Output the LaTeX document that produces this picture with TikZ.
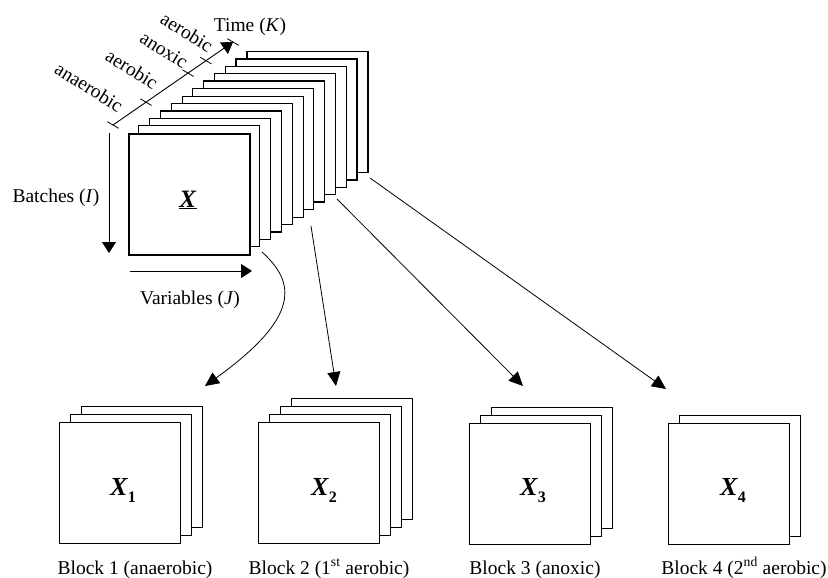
\documentclass[tikz,border=0pt]{standalone}
\usepackage{fontspec}
\setmainfont{Liberation Serif}
\usetikzlibrary{arrows.meta,calc}
\newcommand{\blocksub}[1]{\raisebox{-0.28em}{\fontsize{16}{16}\selectfont\textbf{#1}}}
\begin{document}
\begin{tikzpicture}[x=1pt,y=-1pt,
  thinslice/.style={draw=black,fill=white,line width=0.8pt},
  boldslice/.style={draw=black,fill=white,line width=1.7pt},
  frontbox/.style={draw=black,fill=white,line width=0.8pt,minimum width=121pt,minimum height=121pt,inner sep=0pt,anchor=north west},
  lbl/.style={font=\fontsize{19.5}{23}\selectfont,inner sep=0pt},
  biglbl/.style={font=\fontsize{26}{28}\selectfont,inner sep=0pt},
  axisarrow/.style={line width=0.9pt,-{Triangle[length=11pt,width=14pt]}},
  conn/.style={line width=0.8pt,-{Triangle[length=14pt,width=13pt]}},
  tickmark/.style={line width=0.8pt}]
\useasboundingbox[fill=white] (0,0) rectangle (828,578);

% ---- three-way array X : stack of time slices (back to front)
\foreach \i/\s in {11/boldslice,10/boldslice,9/thinslice,8/thinslice,7/boldslice,6/thinslice,5/thinslice,4/thinslice,3/boldslice,2/thinslice,1/thinslice}
  \draw[\s] ({128+10.8*\i},{133-7.4*\i}) rectangle ++(121,121);
\node[frontbox,line width=1.7pt] (X) at (128,133) {};
\node[biglbl,font=\fontsize{25}{27}\selectfont,anchor=base] (Xlbl) at (188,207) {\underline{\textbf{\textit{X}}}};

% ---- time axis
\coordinate (a0) at (113,125);
\coordinate (a1) at (233,42);
\draw[axisarrow] (a0) -- (a1);
\foreach \f in {0,0.275,0.625,0.775,1}
  \draw[tickmark] ($(a0)!\f!(a1)+(-5.6,-3.3)$) -- ($(a0)!\f!(a1)+(5.6,3.3)$);
\node[lbl,rotate=-32] (ph1) at (89,87) {anaerobic};
\node[lbl,rotate=-32] (ph2) at (132,69) {aerobic};
\node[lbl,rotate=-32] (ph3) at (164,50) {anoxic};
\node[lbl,rotate=-32] (ph4) at (187,32) {aerobic};
\node[lbl,anchor=base] (time) at (250,32) {Time (\textit{K})};

% ---- batches and variables axes
\coordinate (bI0) at (109,133);
\coordinate (bI1) at (109,253);
\draw[axisarrow] (bI0) -- (bI1);
\node[lbl,anchor=base] (batches) at (56,202) {Batches (\textit{I})};
\coordinate (vJ0) at (130,271);
\coordinate (vJ1) at (252,271);
\draw[axisarrow] (vJ0) -- (vJ1);
\node[lbl,anchor=base] (variables) at (190,304) {Variables (\textit{J})};

% ---- blocks
% Block 1 (3 slices)
\foreach \j in {2,1} \draw[thinslice] ({59+11*\j},{422-8*\j}) rectangle ++(121,121);
\node[frontbox] (b1) at (59,422) {};
% Block 2 (4 slices)
\foreach \j in {3,2,1} \draw[thinslice] ({258+11*\j},{422-8*\j}) rectangle ++(121,121);
\node[frontbox] (b2) at (258,422) {};
% Block 3 (3 slices)
\foreach \j in {2,1} \draw[thinslice] ({469+11*\j},{423-8*\j}) rectangle ++(121,121);
\node[frontbox] (b3) at (469,423) {};
% Block 4 (2 slices)
\foreach \j in {1} \draw[thinslice] ({668+11*\j},{423-8*\j}) rectangle ++(121,121);
\node[frontbox] (b4) at (668,423) {};

\node[biglbl,anchor=base] (x1) at (123,495) {\textbf{\textit{X}}\blocksub{1}};
\node[biglbl,anchor=base] (x2) at (324,495) {\textbf{\textit{X}}\blocksub{2}};
\node[biglbl,anchor=base] (x3) at (533,495) {\textbf{\textit{X}}\blocksub{3}};
\node[biglbl,anchor=base] (x4) at (733,495) {\textbf{\textit{X}}\blocksub{4}};

\node[lbl,anchor=base] (l1) at (135,574) {Block 1 (anaerobic)};
\node[lbl,anchor=base] (l2) at (329,574) {Block 2 (1\textsuperscript{st} aerobic)};
\node[lbl,anchor=base] (l3) at (535,574) {Block 3 (anoxic)};
\node[lbl,anchor=base] (l4) at (744,574) {Block 4 (2\textsuperscript{nd} aerobic)};

% ---- connectors
\coordinate (s1) at (262,252);
\coordinate (t1) at (205,386);
\coordinate (s2) at (311,226);
\coordinate (t2) at (336,386);
\coordinate (s3) at (337,199);
\coordinate (t3) at (523,386);
\coordinate (s4) at (370,178);
\coordinate (t4) at (666,389);
\draw[conn] (s1) .. controls (295,282) and (302,316) .. (t1);
\draw[conn] (s2) -- (t2);
\draw[conn] (s3) -- (t3);
\draw[conn] (s4) -- (t4);
\end{tikzpicture}
\end{document}
